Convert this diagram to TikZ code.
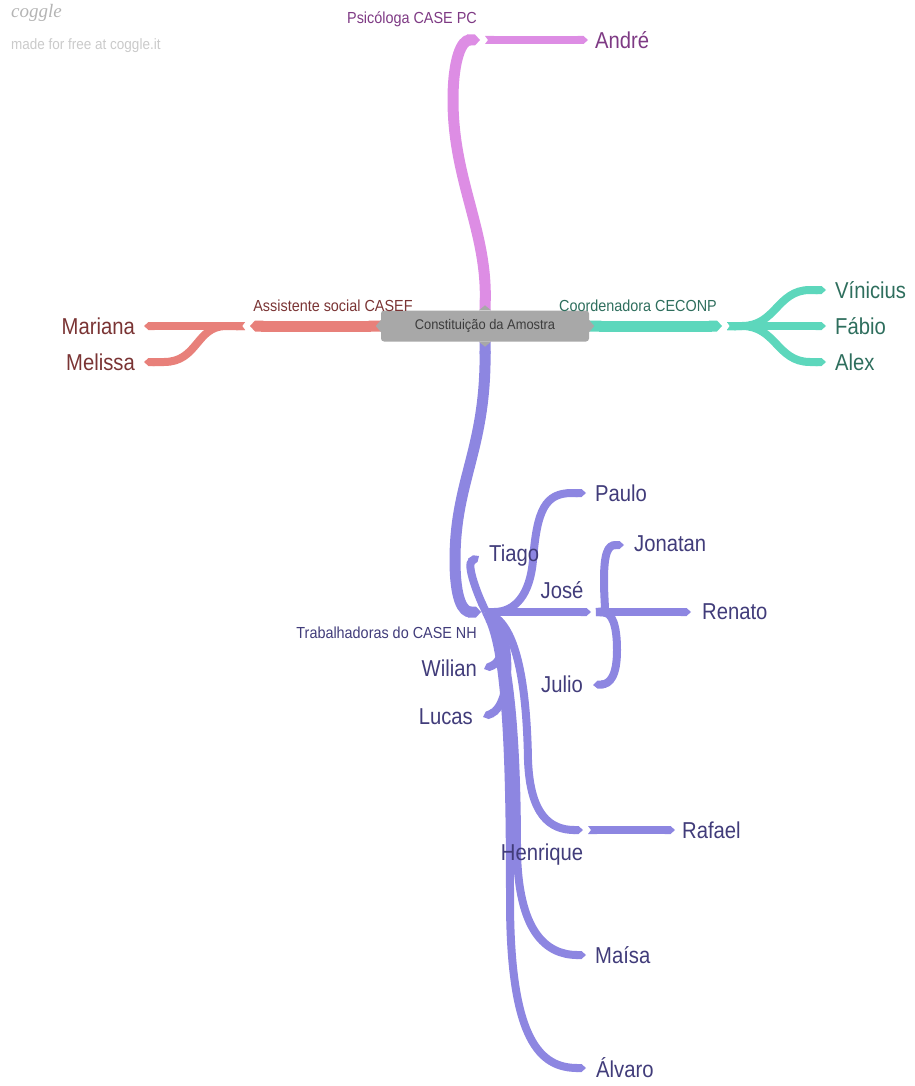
\documentclass[tikz,border=0pt]{standalone}
\usepackage{fontspec}
\setmainfont{Liberation Sans}
\newfontfamily\lf[FakeStretch=0.88]{Liberation Sans}
\newfontfamily\smallf[FakeStretch=0.9]{Liberation Sans}
\newfontfamily\cf[FakeStretch=0.92]{Liberation Sans}
\newfontfamily\logof{Liberation Serif}
\usetikzlibrary{arrows.meta}
\definecolor{pinkL}{HTML}{DD8DE4}
\definecolor{pinkT}{HTML}{7E3A84}
\definecolor{salL}{HTML}{E8807A}
\definecolor{salT}{HTML}{7A3434}
\definecolor{tealL}{HTML}{5DD7BC}
\definecolor{tealT}{HTML}{2E6E5D}
\definecolor{purL}{HTML}{8D86E1}
\definecolor{purT}{HTML}{413C7A}
\definecolor{boxG}{HTML}{A8A8A8}
\definecolor{boxT}{HTML}{3C3C3C}
\definecolor{logoG}{HTML}{B4B4B4}
\definecolor{logoL}{HTML}{CACACA}
\tikzset{
  leaf/.style={inner sep=0pt, font=\lf\fontsize{23}{25}\selectfont},
  lbl/.style={inner sep=0pt, font=\smallf\fontsize{16}{18}\selectfont},
  mainline/.style={line width=11pt, arrows={Triangle Cap[reversed,length=4pt]-Triangle Cap[length=5pt]}},
  twig/.style={line width=8pt, arrows={Triangle Cap[reversed,length=3pt]-Triangle Cap[length=4.5pt]}},
  twigb/.style={line width=8pt, arrows={Butt Cap-Triangle Cap[length=4.5pt]}},
}
\begin{document}
\begin{tikzpicture}[x=1pt,y=-1pt]
\useasboundingbox (0,0) rectangle (914,1086);
% watermark
\node[inner sep=0pt, anchor=west, text=logoG, font=\logof\itshape\fontsize{19}{21}\selectfont] (logo) at (11,13) {coggle};
\node[inner sep=0pt, anchor=west, text=logoL, font=\smallf\fontsize{15}{17}\selectfont] (made) at (11,46) {made for free at coggle.it};

% root
\node[fill=boxG, rounded corners=3pt, minimum width=208pt, minimum height=31pt, inner sep=0pt, text=boxT, font=\cf\fontsize{14}{16}\selectfont] (root) at (485,326) {Constituição da Amostra};

% coordinates
\coordinate (p1) at (480,40);  \coordinate (p1b) at (485,40);  \coordinate (andreE) at (588,40);
\coordinate (s1) at (250,326); \coordinate (s1b) at (245,326); \coordinate (mariE) at (144,326); \coordinate (melE) at (144,362);
\coordinate (t1) at (722,326); \coordinate (t1b) at (727,326); \coordinate (vinE) at (826,290); \coordinate (fabE) at (826,326); \coordinate (alexE) at (826,362);
\coordinate (J) at (481,612);  \coordinate (Jb) at (486,612);
\coordinate (tiaE) at (479,556); \coordinate (pauE) at (586,493);
\coordinate (jo) at (591,612); \coordinate (jo2) at (596,612);
\coordinate (renE) at (691,612); \coordinate (jonE) at (624,545); \coordinate (julE) at (593,685);
\coordinate (wilE) at (484,669); \coordinate (lucE) at (483,717);
\coordinate (r1) at (583,830); \coordinate (r1b) at (588,830); \coordinate (rafE) at (675,830);
\coordinate (maiE) at (586,955); \coordinate (alvE) at (586,1068);

% pink branch
\draw[mainline, pinkL] (root.north) .. controls (487,230) and (453,180) .. (453,100) .. controls (453,58) and (462,40) .. (p1);
\draw[twig, pinkL] (p1b) -- (andreE);

% salmon branch
\draw[mainline, salL] (root.west) -- (s1);
\draw[twig, salL] (s1b) -- (mariE);
\draw[twig, salL] (s1b) -- (226,326) .. controls (196,326) and (198,362) .. (164,362) -- (melE);

% teal branch
\draw[mainline, tealL] (root.east) -- (t1);
\draw[twig, tealL] (t1b) -- (fabE);
\draw[twig, tealL] (t1b) -- (742,326) .. controls (776,326) and (777,290) .. (810,290) -- (vinE);
\draw[twig, tealL] (t1b) -- (742,326) .. controls (776,326) and (777,362) .. (810,362) -- (alexE);

% purple branch
\draw[mainline, purL] (root.south) .. controls (486,450) and (455,480) .. (455,560) .. controls (455,600) and (463,612) .. (J);
\draw[twigb, purL] (Jb) .. controls (508,660) and (510,780) .. (510,900) .. controls (510,1040) and (540,1068) .. (alvE);
\draw[twigb, purL] (Jb) .. controls (512,650) and (517,760) .. (517,850) .. controls (518,930) and (545,955) .. (maiE);
\draw[twig, purL] (Jb) .. controls (520,630) and (527,700) .. (528,760) .. controls (530,815) and (550,830) .. (r1);
\draw[twig, purL] (r1b) -- (rafE);
\draw[twigb, purL] (Jb) .. controls (512,630) and (513,705) .. (lucE);
\draw[twigb, purL] (Jb) .. controls (506,625) and (506,660) .. (wilE);
\draw[twigb, purL] (Jb) .. controls (478,595) and (466,565) .. (tiaE);
\draw[twigb, purL] (Jb) .. controls (515,612) and (530,595) .. (533,560) .. controls (537,510) and (545,493) .. (572,493) -- (pauE);
\draw[twig, purL] (Jb) -- (jo);
\draw[twig, purL] (jo2) -- (renE);
\draw[twigb, purL] (jo2) .. controls (606,611) and (604,600) .. (604,580) .. controls (604,553) and (608,545) .. (jonE);
\draw[twigb, purL] (jo2) .. controls (612,613) and (617,625) .. (617,650) .. controls (617,676) and (610,684) .. (julE);

% root tabs
\fill[boxG] ([xshift=-6pt]root.north) -- ([yshift=5pt]root.north) -- ([xshift=6pt]root.north) -- cycle;
\fill[boxG] ([xshift=-6pt]root.south) -- ([yshift=-5pt]root.south) -- ([xshift=6pt]root.south) -- cycle;
\fill[boxG] ([yshift=-6pt]root.west) -- ([xshift=-5pt]root.west) -- ([yshift=6pt]root.west) -- cycle;
\fill[boxG] ([yshift=-6pt]root.east) -- ([xshift=5pt]root.east) -- ([yshift=6pt]root.east) -- cycle;

% branch labels
\node[lbl, text=pinkT] (psi) at (412,19) {Psicóloga CASE PC};
\node[lbl, text=salT] (ass) at (333,306) {Assistente social CASEF};
\node[lbl, text=tealT] (coo) at (638,306) {Coordenadora CECONP};
\node[lbl, text=purT, anchor=east] (tra) at (477,633) {Trabalhadoras do CASE NH};

% leaves
\node[leaf, text=pinkT, anchor=west] (andre) at (595,40) {André};
\node[leaf, text=salT, anchor=east] (mariana) at (135,326) {Mariana};
\node[leaf, text=salT, anchor=east] (melissa) at (135,362) {Melissa};
\node[leaf, text=tealT, anchor=west] (vinicius) at (835,290) {Vínicius};
\node[leaf, text=tealT, anchor=west] (fabio) at (835,326) {Fábio};
\node[leaf, text=tealT, anchor=west] (alex) at (835,362) {Alex};
\node[leaf, text=purT, anchor=west] (paulo) at (595,493) {Paulo};
\node[leaf, text=purT, anchor=west] (tiago) at (489,556) {Tiago};
\node[leaf, text=purT] (jose) at (562,590) {José};
\node[leaf, text=purT, anchor=west] (jonatan) at (634,544) {Jonatan};
\node[leaf, text=purT, anchor=west] (renato) at (702,612) {Renato};
\node[leaf, text=purT, anchor=east] (julio) at (583,684) {Julio};
\node[leaf, text=purT, anchor=east] (wilian) at (477,668) {Wilian};
\node[leaf, text=purT, anchor=east] (lucas) at (473,717) {Lucas};
\node[leaf, text=purT, anchor=west] (rafael) at (682,830) {Rafael};
\node[leaf, text=purT] (henrique) at (542,855) {Henrique};
\node[leaf, text=purT, anchor=west] (maisa) at (595,955) {Maísa};
\node[leaf, text=purT, anchor=west] (alvaro) at (596,1068) {Álvaro};
\end{tikzpicture}
\end{document}
